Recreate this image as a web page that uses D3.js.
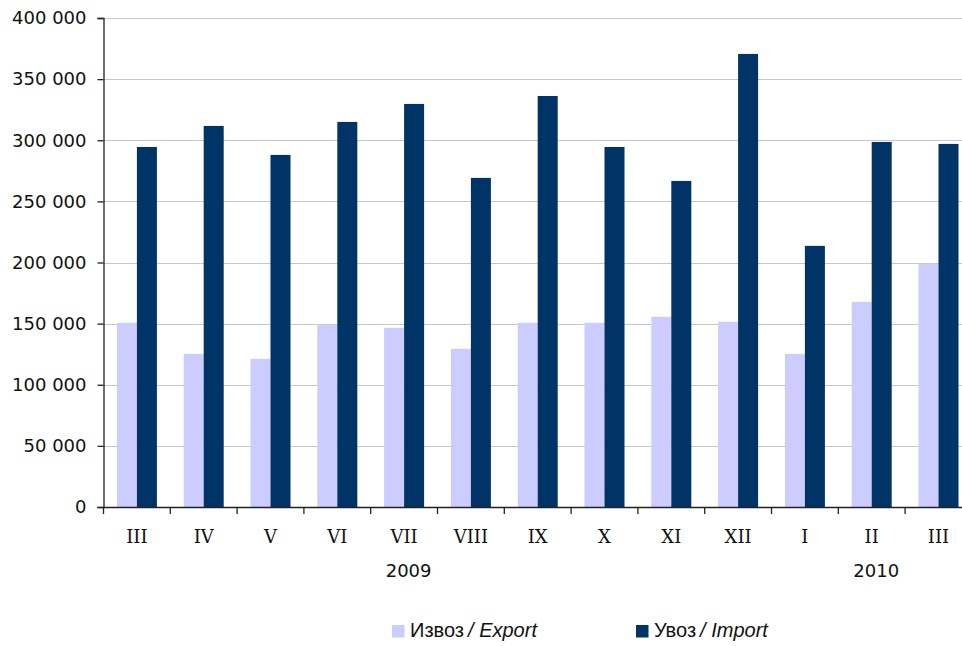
<!DOCTYPE html>
<html>
<head>
<meta charset="utf-8">
<script src="https://cdn.jsdelivr.net/npm/d3@7"></script>
<style>
  html, body { margin: 0; padding: 0; background: #fff; }
  svg { display: block; }
</style>
</head>
<body>
<svg id="chart" width="962" height="646"></svg>
<script>
// ---- data ----
const months = ["III", "IV", "V", "VI", "VII", "VIII", "IX", "X", "XI", "XII", "I", "II", "III"];
const exportValues = [150700, 125300, 121200, 149300, 146600, 129400, 150700, 150700, 155600, 151500, 125300, 167800, 198900];
const importValues = [294500, 311700, 288000, 315000, 329700, 269200, 336200, 294500, 266700, 370600, 213600, 298600, 297000];
const yTicks = [0, 50000, 100000, 150000, 200000, 250000, 300000, 350000, 400000];
const yearLabels = [{ label: "2009", at: 4 }, { label: "2010", at: 11 }];
const seriesNames = ["export", "import"];
const legendLabels = [
  { key: "export", main: "Извоз", sub: "Export" },
  { key: "import", main: "Увоз", sub: "Import" }
];
const colors = { export: "#CCCCFF", import: "#003366" };

// ---- layout ----
const svg = d3.select("#chart");
const plotLeft = 103.5, plotTop = 18, plotBottom = 507;
const step = 66.8;
const idx = months.map((d, i) => i);

const x = d3.scaleBand().domain(idx).range([plotLeft, plotLeft + step * months.length]).padding(0);
const x1 = d3.scaleBand().domain(seriesNames).range([0, x.bandwidth()]).paddingInner(0).paddingOuter(0.67);
const y = d3.scaleLinear().domain([0, 400000]).range([plotBottom, plotTop]);

const fmt = v => d3.format(",")(v).replace(/,/g, " ");

// gridlines
svg.append("g")
  .selectAll("line")
  .data(yTicks.filter(t => t > 0))
  .join("line")
  .attr("x1", plotLeft).attr("x2", 962)
  .attr("y1", d => Math.round(y(d)) + 0.5).attr("y2", d => Math.round(y(d)) + 0.5)
  .attr("stroke", "#c6c6c6").attr("stroke-width", 1.2);

// bars
const rows = idx.map(i => ({ i, export: exportValues[i], import: importValues[i] }));
const groups = svg.append("g").selectAll("g").data(rows).join("g")
  .attr("transform", d => `translate(${x(d.i)},0)`);
groups.selectAll("rect")
  .data(d => seriesNames.map(k => ({ key: k, value: d[k] })))
  .join("rect")
  .attr("x", d => x1(d.key))
  .attr("width", x1.bandwidth())
  .attr("y", d => y(d.value))
  .attr("height", d => y(0) - y(d.value))
  .attr("fill", d => colors[d.key]);

// y axis
const yAxis = d3.axisLeft(y).tickValues(yTicks).tickFormat(fmt).tickSize(6).tickPadding(11);
const gy = svg.append("g").attr("transform", `translate(${plotLeft},0)`).call(yAxis);
gy.select(".domain").attr("stroke", "#222").attr("stroke-width", 1.3);
gy.selectAll(".tick line").attr("stroke", "#222").attr("stroke-width", 1.3);
gy.selectAll(".tick text")
  .attr("font-family", "DejaVu Sans, Verdana, sans-serif")
  .attr("font-size", 18).attr("fill", "#111");

// x axis
const xAxis = d3.axisBottom(x).tickValues(idx).tickFormat(i => months[i]).tickSize(0).tickPadding(23);
const gx = svg.append("g").attr("transform", `translate(0,${plotBottom})`).call(xAxis);
gx.select(".domain").attr("stroke", "#222").attr("stroke-width", 1.3);
gx.selectAll(".tick text")
  .attr("font-family", "DejaVu Serif, serif")
  .attr("font-size", 18).attr("fill", "#111");
// category boundary ticks
gx.append("g").selectAll("line")
  .data(idx)
  .join("line")
  .attr("x1", i => x(i)).attr("x2", i => x(i))
  .attr("y1", 0).attr("y2", 7)
  .attr("stroke", "#222").attr("stroke-width", 1.3);

// year labels
svg.append("g").selectAll("text")
  .data(yearLabels)
  .join("text")
  .attr("x", d => x(d.at) + x.bandwidth() / 2 + 4.5)
  .attr("y", 577)
  .attr("text-anchor", "middle")
  .attr("font-family", "DejaVu Sans, Verdana, sans-serif")
  .attr("font-size", 18).attr("fill", "#111")
  .text(d => d.label);

// legend
const legendX = [392, 636];
const lg = svg.append("g").selectAll("g").data(legendLabels).join("g")
  .attr("transform", (d, i) => `translate(${legendX[i]},625)`);
lg.append("rect").attr("width", 12.5).attr("height", 12.5).attr("fill", d => colors[d.key]);
const lt = lg.append("text").attr("x", 18).attr("y", 11.5)
  .attr("font-family", "Liberation Sans, Arial, sans-serif")
  .attr("font-size", 20).attr("fill", "#111");
lt.append("tspan").attr("font-style", "normal").text(d => d.main);
lt.append("tspan").attr("font-style", "italic").text(d => "/ " + d.sub).attr("dx", 4);
</script>
</body>
</html>
